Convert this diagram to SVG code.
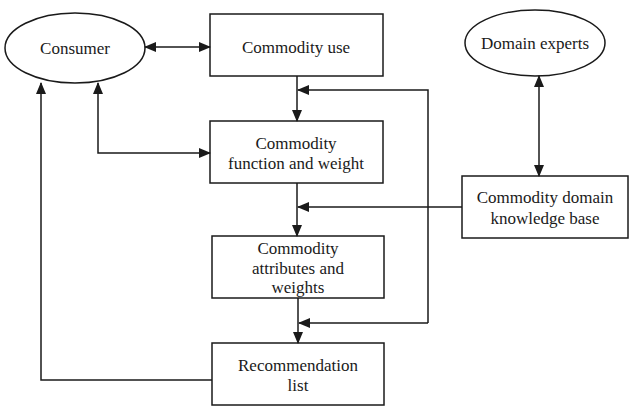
<svg xmlns="http://www.w3.org/2000/svg" width="629" height="406" viewBox="0 0 629 406">
<style>
.n{fill:#fff;stroke:#1a1a1a;stroke-width:1.5}
.c{fill:none;stroke:#1a1a1a;stroke-width:1.5}
text{font-family:'Liberation Serif','DejaVu Serif','Times New Roman',serif;font-size:17px;fill:#1a1a1a;text-anchor:middle}
</style>
<defs>
<marker id="a" markerUnits="userSpaceOnUse" markerWidth="12" markerHeight="10" refX="11" refY="5" orient="auto-start-reverse" viewBox="0 0 12 10">
<path d="M0,0 L12,5 L0,10 z" fill="#1a1a1a"/>
</marker>
</defs>
<g id="consumer"><ellipse class="n" cx="75" cy="48" rx="70" ry="35"/><text x="75" y="54" font-family="Liberation Serif, serif">Consumer</text></g>
<g id="commodity-use"><rect class="n" x="210" y="14" width="173" height="62"/><text x="296" y="53">Commodity use</text></g>
<g id="function-weight"><rect class="n" x="210" y="121" width="173" height="62"/><text x="296" y="149">Commodity</text><text x="296" y="169">function and weight</text></g>
<g id="attributes"><rect class="n" x="212" y="236" width="172" height="62"/><text x="298" y="254">Commodity</text><text x="298" y="274">attributes and</text><text x="298" y="293">weights</text></g>
<g id="recommendation"><rect class="n" x="212" y="343" width="172" height="62"/><text x="298" y="371">Recommendation</text><text x="298" y="391">list</text></g>
<g id="domain-experts"><ellipse class="n" cx="535" cy="43" rx="70" ry="33"/><text x="535" y="49">Domain experts</text></g>
<g id="knowledge-base"><rect class="n" x="462" y="176" width="166" height="62"/><text x="545" y="203">Commodity domain</text><text x="545" y="224">knowledge base</text></g>
<g id="connectors">
<path class="c" d="M145,47 H210" marker-start="url(#a)" marker-end="url(#a)"/>
<path class="c" d="M297,76 V121" marker-end="url(#a)"/>
<path class="c" d="M297,183 V236" marker-end="url(#a)"/>
<path class="c" d="M298,298 V343" marker-end="url(#a)"/>
<path class="c" d="M428,323 V90 H298" marker-end="url(#a)"/>
<path class="c" d="M428,323 H299" marker-end="url(#a)"/>
<path class="c" d="M98,83 V153 H210" marker-start="url(#a)" marker-end="url(#a)"/>
<path class="c" d="M212,380 H41 V83" marker-end="url(#a)"/>
<path class="c" d="M462,207 H298" marker-end="url(#a)"/>
<path class="c" d="M539,76 V176" marker-start="url(#a)" marker-end="url(#a)"/>
</g>
</svg>
